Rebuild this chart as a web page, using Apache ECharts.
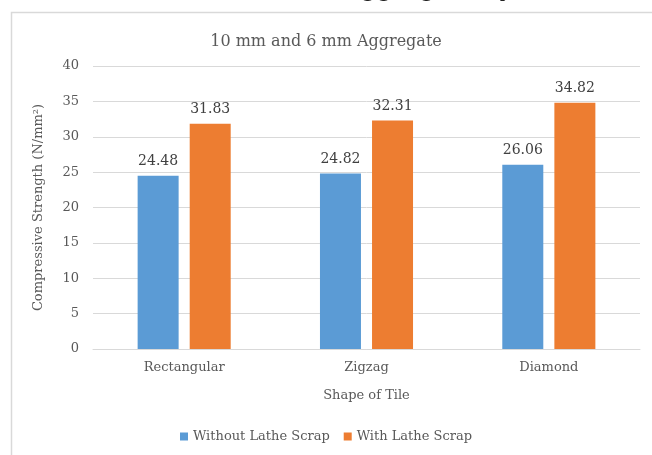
<!DOCTYPE html>
<html>
<head>
<meta charset="utf-8">
<script src="https://cdn.jsdelivr.net/npm/echarts@6/dist/echarts.min.js"></script>
<style>
  html, body { margin: 0; padding: 0; background: #fff; }
  #chart { width: 652px; height: 455px; }
</style>
</head>
<body>
<div id="chart"></div>
<script>
// Compressive strength of tiles by shape, with and without lathe scrap
const shapes = ['Rectangular', 'Zigzag', 'Diamond'];
const withoutScrap = [24.48, 24.82, 26.06];
const withScrap = [31.83, 32.31, 34.82];
const seriesNames = ['Without Lathe Scrap', 'With Lathe Scrap'];
const yTicks = { min: 0, max: 40, interval: 5 };

const FONT = 'DejaVu Serif';
const TEXT = '#595959';

const chart = echarts.init(document.getElementById('chart'), null, { renderer: 'canvas' });

const labelStyle = {
  show: true,
  position: 'top',
  distance: 7,
  color: '#404040',
  fontFamily: FONT,
  fontSize: 14,
  formatter: p => p.value.toFixed(2)
};

chart.setOption({
  backgroundColor: '#ffffff',
  animation: false,
  title: {
    text: '10 mm and 6 mm Aggregate',
    left: 'center',
    top: 29,
    textStyle: { color: TEXT, fontFamily: FONT, fontSize: 16, fontWeight: 'normal' }
  },
  graphic: [
    {
      type: 'rect',
      shape: { x: 11.5, y: 12.5, width: 700, height: 500 },
      style: { fill: 'none', stroke: '#d9d9d9', lineWidth: 1.5 },
      silent: true
    },
    {
      // caption line above the chart frame, mostly off the top edge
      type: 'text',
      left: 343,
      top: -23,
      style: { text: 'Aggregate by', fontFamily: FONT, fontSize: 25, fill: '#222' },
      silent: true
    }
  ],
  legend: {
    data: seriesNames,
    bottom: 7,
    left: 'center',
    itemWidth: 8,
    itemHeight: 8,
    itemGap: 14,
    icon: 'rect',
    textStyle: { color: TEXT, fontFamily: FONT, fontSize: 13 }
  },
  grid: { left: 93, right: 12, top: 66, bottom: 106, containLabel: false },
  xAxis: {
    type: 'category',
    data: shapes,
    name: 'Shape of Tile',
    nameLocation: 'middle',
    nameGap: 40,
    nameTextStyle: { color: TEXT, fontFamily: FONT, fontSize: 13 },
    axisLine: { lineStyle: { color: '#d9d9d9', width: 1 } },
    axisTick: { show: false },
    axisLabel: { color: TEXT, fontFamily: FONT, fontSize: 13, margin: 12 }
  },
  yAxis: {
    type: 'value',
    min: yTicks.min,
    max: yTicks.max,
    interval: yTicks.interval,
    name: 'Compressive Strength (N/mm²)',
    nameLocation: 'middle',
    nameGap: 48,
    nameTextStyle: { color: TEXT, fontFamily: FONT, fontSize: 13 },
    axisLine: { show: false },
    axisTick: { show: false },
    axisLabel: { color: TEXT, fontFamily: FONT, fontSize: 13, margin: 14 },
    splitLine: { lineStyle: { color: '#d9d9d9', width: 1 } }
  },
  series: [
    {
      name: seriesNames[0],
      type: 'bar',
      data: withoutScrap,
      barWidth: 41,
      barGap: '27%',
      itemStyle: { color: '#5B9BD5' },
      label: labelStyle
    },
    {
      name: seriesNames[1],
      type: 'bar',
      data: withScrap,
      barWidth: 41,
      itemStyle: { color: '#ED7D31' },
      label: labelStyle
    }
  ]
});
</script>
</body>
</html>
